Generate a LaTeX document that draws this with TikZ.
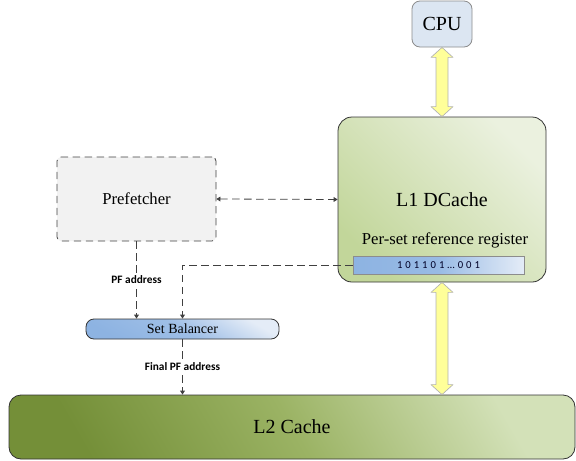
\documentclass[tikz,border=0pt]{standalone}
\usepackage{fontspec}
\setmainfont{Liberation Serif}
\newfontfamily\lblfont{Carlito}
\newfontfamily\bitfont[LetterSpace=28]{Carlito}
\usetikzlibrary{arrows.meta,calc}
\definecolor{cpufill}{HTML}{DCE6F2}
\definecolor{prefill}{HTML}{F2F2F2}
\definecolor{lonelight}{HTML}{EBF1DF}
\definecolor{lonedark}{HTML}{C2D69A}
\definecolor{ltwolight}{HTML}{D3E1B8}
\definecolor{ltwomid}{HTML}{9BB364}
\definecolor{ltwodark}{HTML}{748F38}
\definecolor{regdark}{HTML}{8DB3E2}
\definecolor{reglight}{HTML}{E4ECF7}
\definecolor{busyellow}{HTML}{FFFF99}
\begin{document}
\begin{tikzpicture}[x=0.75pt,y=-0.75pt,>={Triangle[width=3.6pt,length=3pt]},
  box/.style={draw=black!80,line width=0.6pt,inner sep=0pt},
  dasharrow/.style={draw=black!75,line width=0.6pt,dash pattern=on 5.5pt off 3.5pt},
  fatarrow/.style={draw=black!30,line width=0.5pt,fill=busyellow,line join=round},
  lbl/.style={fill=white,inner sep=1.5pt,font=\lblfont\bfseries\fontsize{8.5}{10}\selectfont}]
\useasboundingbox (0,0) rectangle (576,461);

\node[box,draw=black!45,fill=cpufill,rounded corners=6pt,minimum width=45pt,minimum height=34.5pt,
  font=\fontsize{15}{18}\selectfont] (cpu) at (442,24) {CPU};
\node[box,top color=lonelight,bottom color=lonedark,shading angle=-45,rounded corners=10.5pt,
  minimum width=156pt,minimum height=123.75pt,font=\fontsize{15}{18}\selectfont] (l1) at (442,199.5) {L1 DCache};
\node[font=\fontsize{12.5}{15}\selectfont] (reglbl) at (445,240) {Per-set reference register};
\node[box,draw=black!45,left color=regdark,right color=reglight,middle color=regdark!90!white,
  minimum width=128.25pt,minimum height=13.5pt,
  font=\bitfont\fontsize{8}{9}\selectfont\color{black!85!blue}] (reg) at (438.5,265) {101101…001};
\node[box,dasharrow,fill=prefill,rounded corners=3pt,minimum width=119.25pt,minimum height=63pt,
  font=\fontsize{12.5}{15}\selectfont] (pref) at (136.5,199) {Prefetcher};
\node[box,top color=reglight,bottom color=regdark,middle color=regdark!85!white,shading angle=-30,rounded corners=6pt,
  minimum width=144.75pt,minimum height=15pt,font=\fontsize{10.5}{12}\selectfont] (setbal) at (182.5,329) {Set Balancer};
\node[box,top color=ltwolight,bottom color=ltwodark,middle color=ltwomid,shading angle=-60,rounded corners=9pt,
  minimum width=424.5pt,minimum height=48pt,font=\fontsize{15}{18}\selectfont] (l2) at (292,427) {L2 Cache};

\draw[fatarrow] (cpu.south) -- ++(11,10) -- ++(-5,0) -- ($(l1.north)+(6,-10)$) -- ++(5,0) -- (l1.north)
  -- ++(-11,-10) -- ++(5,0) -- ($(cpu.south)+(-6,10)$) -- ++(-5,0) -- cycle;
\draw[fatarrow] (l1.south) -- ++(11,10) -- ++(-5,0) -- ($(l1.south |- l2.north)+(6,-10)$) -- ++(5,0)
  -- (l1.south |- l2.north) -- ++(-11,-10) -- ++(5,0) -- ($(l1.south)+(-6,10)$) -- ++(-5,0) -- cycle;

\draw[dasharrow,<->] (pref.east) -- (l1.west);
\draw[dasharrow,->] (pref.south) -- node[lbl]{PF address} (pref.south |- setbal.north);
\draw[dasharrow,->] (reg.west) -| (setbal.north);
\draw[dasharrow,->] (setbal.south) -- node[lbl]{Final PF address} (setbal.south |- l2.north);
\end{tikzpicture}
\end{document}
